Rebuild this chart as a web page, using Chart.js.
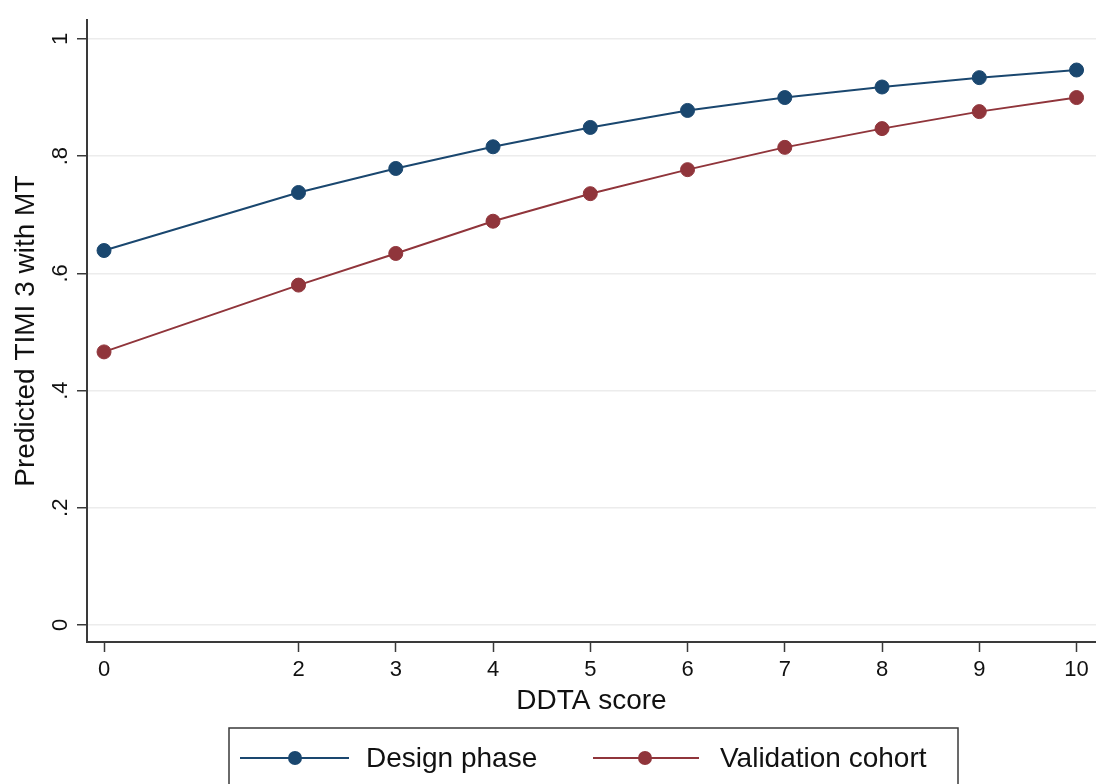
<!DOCTYPE html>
<html>
<head>
<meta charset="utf-8">
<script src="https://cdn.jsdelivr.net/npm/chart.js@4/dist/chart.umd.min.js"></script>
<style>
  html, body { margin: 0; padding: 0; background: #fff; }
  #wrap { width: 1096px; height: 784px; }
</style>
</head>
<body>
<div id="wrap"><canvas id="plot" width="1096" height="784"></canvas></div>
<script>
// ----------------------------------------------------
const scores = [ 0, 2, 3, 4, 5, 6, 7, 8, 9, 10 ];
const designPhase = [ 0.639, 0.738, 0.779, 0.816, 0.849, 0.878, 0.900, 0.918, 0.934, 0.947 ];
const validationCohort = [ 0.466, 0.580, 0.634, 0.689, 0.736, 0.777, 0.815, 0.847, 0.876, 0.900 ];
const seriesNames = [ 'Design phase', 'Validation cohort' ];
const xTicks = [ 0, 2, 3, 4, 5, 6, 7, 8, 9, 10 ];
const yTicks = [ 0, 0.2, 0.4, 0.6, 0.8, 1 ];
const yTickLabels = [ '0', '.2', '.4', '.6', '.8', '1' ];
// ----------------------------------------------------
const FONT = "'Liberation Sans', Arial, Helvetica, sans-serif";
const BLUE = '#1a476f';
const RED = '#90353b';
const AXIS = '#3a3a3a';

const toPoints = ys => scores.map( ( x, i ) => ({ x: x, y: ys[ i ] }) );

// legend drawn in a framed box under the axis title
const boxLegend = {
    id: 'boxLegend',
    afterDraw( chart ) {
        const ctx = chart.ctx;
        const items = [
            { x0: 240, x1: 349, dot: 295, text: 366 },
            { x0: 593, x1: 699, dot: 645, text: 720 }
        ];
        const cy = 758;
        ctx.save();
        ctx.strokeStyle = AXIS;
        ctx.lineWidth = 1.5;
        ctx.strokeRect( 229, 728, 729, 80 );
        chart.data.datasets.forEach( ( ds, i ) => {
            const it = items[ i ];
            ctx.strokeStyle = ds.borderColor;
            ctx.lineWidth = 2;
            ctx.beginPath();
            ctx.moveTo( it.x0, cy );
            ctx.lineTo( it.x1, cy );
            ctx.stroke();
            ctx.fillStyle = ds.pointBackgroundColor;
            ctx.beginPath();
            ctx.arc( it.dot, cy, 7, 0, Math.PI * 2 );
            ctx.fill();
            ctx.fillStyle = '#111';
            ctx.font = '28px ' + FONT;
            ctx.textBaseline = 'middle';
            ctx.textAlign = 'left';
            ctx.fillText( ds.label, it.text, cy + 1 );
        });
        ctx.restore();
    }
};

const plot = new Chart( document.getElementById( 'plot' ), {
    type: 'line',
    data: {
        datasets: [
            {
                label: seriesNames[ 0 ],
                data: toPoints( designPhase ),
                borderColor: BLUE,
                backgroundColor: BLUE,
                pointBackgroundColor: BLUE,
                pointBorderColor: BLUE,
                borderWidth: 2,
                pointRadius: 7,
                pointBorderWidth: 1,
                tension: 0
            },
            {
                label: seriesNames[ 1 ],
                data: toPoints( validationCohort ),
                borderColor: RED,
                backgroundColor: RED,
                pointBackgroundColor: RED,
                pointBorderColor: RED,
                borderWidth: 2,
                pointRadius: 7,
                pointBorderWidth: 1,
                tension: 0
            }
        ]
    },
    options: {
        responsive: false,
        animation: false,
        events: [],
        layout: { autoPadding: false, padding: { left: 0, right: 0, top: 18, bottom: 62 } },
        plugins: {
            legend: { display: false },
            tooltip: { enabled: false }
        },
        scales: {
            x: {
                type: 'linear',
                min: -0.175,
                max: 10.2,
                afterBuildTicks: s => { s.ticks = xTicks.map( v => ({ value: v }) ); },
                afterFit: s => { s.height = 80; },
                grid: { drawOnChartArea: false, tickColor: AXIS, tickLength: 10, tickWidth: 1.5 },
                border: { color: AXIS, width: 2 },
                ticks: { color: '#111', padding: 5, font: { family: FONT, size: 22 } },
                title: { display: true, text: 'DDTA score', color: '#111', padding: { top: 0, bottom: 4 }, font: { family: FONT, size: 28 } }
            },
            y: {
                type: 'linear',
                min: -0.029,
                max: 1.032,
                afterBuildTicks: s => { s.ticks = yTicks.map( v => ({ value: v }) ); },
                afterFit: s => { s.width = 87; },
                grid: { color: '#ececec', lineWidth: 1.5, tickColor: AXIS, tickLength: 10, tickWidth: 1.5 },
                border: { color: AXIS, width: 2 },
                ticks: {
                    color: '#111',
                    padding: 7,
                    minRotation: 90,
                    maxRotation: 90,
                    crossAlign: 'center',
                    font: { family: FONT, size: 22 },
                    callback: v => {
                        const k = yTicks.findIndex( t => Math.abs( t - v ) < 1e-9 );
                        return k >= 0 ? yTickLabels[ k ] : '';
                    }
                },
                title: { display: true, text: 'Predicted TIMI 3 with MT', color: '#111', padding: { top: 9, bottom: 0 }, font: { family: FONT, size: 28 } }
            }
        }
    },
    plugins: [ boxLegend ]
});
</script>
</body>
</html>
